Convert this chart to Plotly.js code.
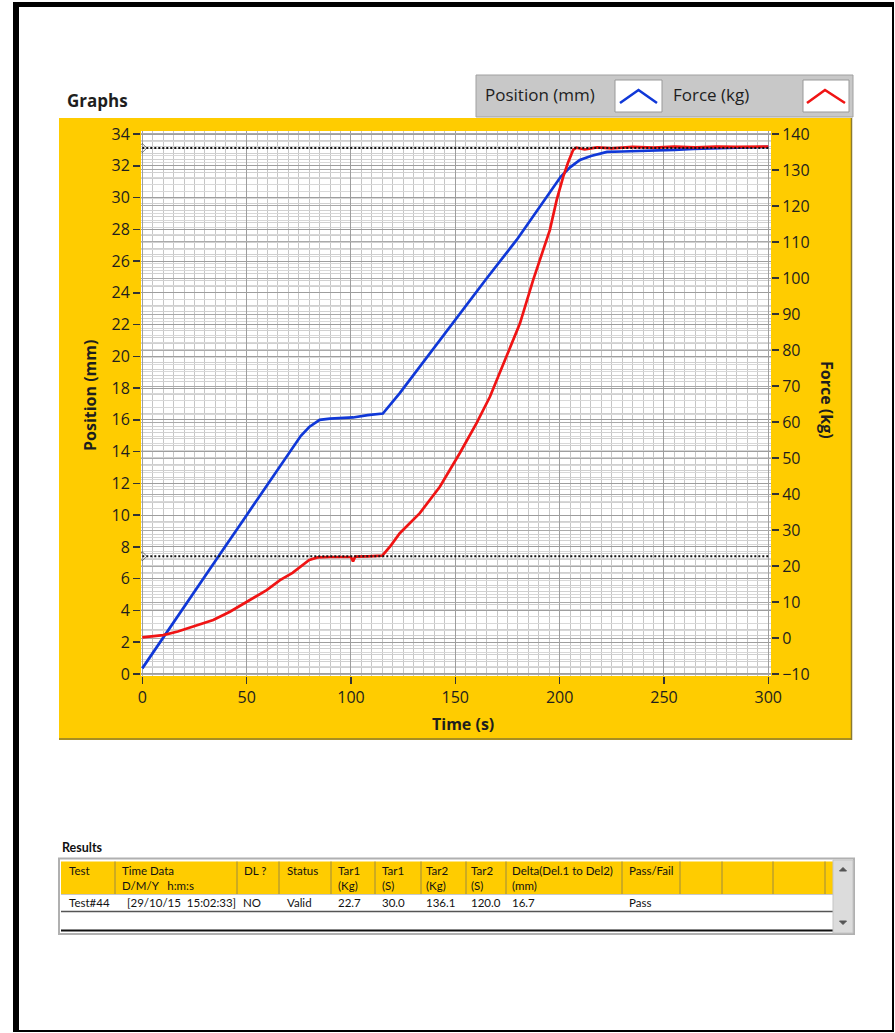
<!DOCTYPE html>
<html>
<head>
<meta charset="utf-8">
<script src="https://cdn.plot.ly/plotly-3.0.1.min.js"></script>
<style>html,body{margin:0;padding:0;background:#fff;}#chart{width:895px;height:1033px;}</style>
</head>
<body>
<div id="chart"></div>
<script>
// ---- data ----
const timePos = [0, 10, 20, 30, 37.2, 50, 60, 70, 76, 80, 83, 85, 90, 95, 101, 108, 115.3, 123.4, 135, 152.2, 165, 179.4, 190, 200.6, 205, 209.7, 215, 222.7, 230, 241.8, 255, 264, 280, 300];
const positionMm = [0.35, 2.3, 4.2, 6.15, 7.53, 10.0, 11.9, 13.85, 15.0, 15.55, 15.85, 16.0, 16.08, 16.1, 16.15, 16.3, 16.4, 17.68, 19.7, 22.71, 24.9, 27.33, 29.3, 31.32, 31.9, 32.37, 32.62, 32.87, 32.9, 32.93, 33.0, 33.06, 33.12, 33.19];

const timeForce = [0, 5, 10, 17, 24, 34, 42, 50, 59.6, 66, 72, 80, 84, 90, 95, 100, 101, 102, 108, 115, 119, 123.4, 133, 142.6, 152.2, 160.2, 166.6, 174.6, 181, 187.3, 192.1, 195.3, 198.6, 201.7, 204, 206.5, 208, 212, 218, 225, 235, 245, 255, 265, 275, 285, 300];
const forceKg = [0.2, 0.4, 0.8, 1.8, 3.1, 5.0, 7.3, 10.0, 13.3, 16.1, 18.1, 21.7, 22.4, 22.5, 22.6, 22.5, 21.3, 22.6, 22.7, 22.9, 25.6, 29.1, 34.7, 42.0, 51.4, 59.7, 67.0, 78.1, 87.4, 99.4, 107.8, 113.3, 121.7, 128.1, 132.0, 135.6, 136.2, 135.7, 136.3, 136.0, 136.4, 136.2, 136.5, 136.3, 136.5, 136.4, 136.5];

const tar1Kg = 22.7;   // target line 1 (force)
const tar2Kg = 136.1;  // target line 2 (force)
const timeSpan = [0, 300];

const xTicks = [0, 50, 100, 150, 200, 250, 300];

// results table
const tableHeaders = ["Test", "Time Data<br>D/M/Y\u00a0\u00a0\u00a0h:m:s", "DL ?", "Status", "Tar1<br>(Kg)", "Tar1<br>(S)", "Tar2<br>(Kg)", "Tar2<br>(S)", "Delta(Del.1 to Del2)<br>(mm)", "Pass/Fail"];
const tableRow = ["Test#44", "[29/10/15\u00a0\u00a015:02:33]", "NO", "Valid", "22.7", "30.0", "136.1", "120.0", "16.7", "Pass"];

// ---- layout helpers (pixel -> paper) ----
const W = 895, H = 1033;
const X = p => p / W;
const Y = p => 1 - p / H;

const textCol = '#1e1e1e';
const yellow = '#FFCC00';

const traces = [
  {x: timePos, y: positionMm, type: 'scatter', mode: 'lines', name: 'Position (mm)',
   line: {color: '#1038D8', width: 2.7}, xaxis: 'x', yaxis: 'y'},
  {x: timeForce, y: forceKg, type: 'scatter', mode: 'lines', name: 'Force (kg)',
   line: {color: '#F01414', width: 2.7}, xaxis: 'x', yaxis: 'y2'},
  {x: timeSpan, y: [tar1Kg, tar1Kg], type: 'scatter', mode: 'lines+markers', name: 'Tar1',
   line: {color: '#111', width: 2, dash: '2px,2px'}, marker: {symbol: 'diamond-open', size: [7, 0], color: '#444', line: {width: 1}},
   xaxis: 'x', yaxis: 'y2'},
  {x: timeSpan, y: [tar2Kg, tar2Kg], type: 'scatter', mode: 'lines+markers', name: 'Tar2',
   line: {color: '#111', width: 2, dash: '2px,2px'}, marker: {symbol: 'diamond-open', size: [7, 0], color: '#444', line: {width: 1}},
   xaxis: 'x', yaxis: 'y2'}
];

const shapes = [];
const annotations = [];

// outer frame
shapes.push({type: 'rect', xref: 'paper', yref: 'paper', x0: X(13), x1: X(894), y0: Y(2), y1: Y(7), fillcolor: '#000', line: {width: 0}, layer: 'below'});
shapes.push({type: 'rect', xref: 'paper', yref: 'paper', x0: X(13), x1: X(19), y0: Y(2), y1: Y(1032), fillcolor: '#000', line: {width: 0}, layer: 'below'});
shapes.push({type: 'rect', xref: 'paper', yref: 'paper', x0: X(892), x1: X(894), y0: Y(2), y1: Y(1032), fillcolor: '#000', line: {width: 0}, layer: 'below'});
shapes.push({type: 'rect', xref: 'paper', yref: 'paper', x0: X(13), x1: X(894), y0: Y(1030), y1: Y(1032), fillcolor: '#000', line: {width: 0}, layer: 'below'});

// yellow graph panel with white plotting area
shapes.push({type: 'rect', xref: 'paper', yref: 'paper', x0: X(59), x1: X(852), y0: Y(118), y1: Y(740), fillcolor: yellow, line: {width: 0}, layer: 'below'});
shapes.push({type: 'rect', xref: 'paper', yref: 'paper', x0: X(141), x1: X(771), y0: Y(131), y1: Y(676), fillcolor: '#ffffff', line: {width: 0}, layer: 'below'});
shapes.push({type: 'line', xref: 'paper', yref: 'paper', x0: X(59), x1: X(852), y0: Y(739), y1: Y(739), line: {color: '#8a7a30', width: 1.5}, layer: 'below'});
shapes.push({type: 'line', xref: 'paper', yref: 'paper', x0: X(851.5), x1: X(851.5), y0: Y(118), y1: Y(740), line: {color: '#8a7a30', width: 1.5}, layer: 'below'});

// legend box
shapes.push({type: 'rect', xref: 'paper', yref: 'paper', x0: X(476), x1: X(853), y0: Y(75), y1: Y(117), fillcolor: '#C8C8C8', line: {color: '#a0a0a0', width: 1}, layer: 'below'});
shapes.push({type: 'rect', xref: 'paper', yref: 'paper', x0: X(615), x1: X(662), y0: Y(80), y1: Y(112), fillcolor: '#fff', line: {color: '#999', width: 1}});
shapes.push({type: 'rect', xref: 'paper', yref: 'paper', x0: X(803), x1: X(849), y0: Y(80), y1: Y(112), fillcolor: '#fff', line: {color: '#999', width: 1}});
shapes.push({type: 'path', xref: 'paper', yref: 'paper', path: `M ${X(620)} ${Y(103)} L ${X(638.5)} ${Y(90)} L ${X(657)} ${Y(103)}`, line: {color: '#1038D8', width: 2.6}});
shapes.push({type: 'path', xref: 'paper', yref: 'paper', path: `M ${X(807)} ${Y(103)} L ${X(825)} ${Y(90)} L ${X(845)} ${Y(103)}`, line: {color: '#F01414', width: 2.6}});

annotations.push({xref: 'paper', yref: 'paper', x: X(65), y: Y(100), xanchor: 'left', yanchor: 'middle', showarrow: false,
  text: '<b>Graphs</b>', font: {size: 17, color: textCol, family: 'Open Sans, sans-serif'}});
annotations.push({xref: 'paper', yref: 'paper', x: X(483), y: Y(95), xanchor: 'left', yanchor: 'middle', showarrow: false,
  text: 'Position (mm)', font: {size: 17, color: textCol, family: 'Open Sans, sans-serif'}});
annotations.push({xref: 'paper', yref: 'paper', x: X(671), y: Y(95), xanchor: 'left', yanchor: 'middle', showarrow: false,
  text: 'Force (kg)', font: {size: 17, color: textCol, family: 'Open Sans, sans-serif'}});

// axis titles
annotations.push({xref: 'paper', yref: 'paper', x: X(90), y: Y(396), xanchor: 'center', yanchor: 'middle', textangle: -90, showarrow: false,
  text: '<b>Position (mm)</b>', font: {size: 16, color: textCol, family: 'Open Sans, sans-serif'}});
annotations.push({xref: 'paper', yref: 'paper', x: X(463), y: Y(724), xanchor: 'center', yanchor: 'middle', showarrow: false,
  text: '<b>Time (s)</b>', font: {size: 16, color: textCol, family: 'Open Sans, sans-serif'}});
annotations.push({xref: 'paper', yref: 'paper', x: X(827), y: Y(400), xanchor: 'center', yanchor: 'middle', textangle: 90, showarrow: false,
  text: '<b>Force (kg)</b>', font: {size: 16, color: textCol, family: 'Open Sans, sans-serif'}});

// ---- results table ----
const tblFont = {size: 11.5, color: '#111', family: 'Lato, sans-serif'};
annotations.push({xref: 'paper', yref: 'paper', x: X(60), y: Y(847), xanchor: 'left', yanchor: 'middle', showarrow: false,
  text: '<b>Results</b>', font: {size: 12.5, color: '#111', family: 'Lato, sans-serif'}});
shapes.push({type: 'rect', xref: 'paper', yref: 'paper', x0: X(59), x1: X(854), y0: Y(858.5), y1: Y(934), fillcolor: '#fff', line: {color: '#b0b0b0', width: 2}, layer: 'below'});
shapes.push({type: 'rect', xref: 'paper', yref: 'paper', x0: X(61), x1: X(833), y0: Y(861.5), y1: Y(894), fillcolor: yellow, line: {width: 0}, layer: 'below'});
const colLines = [115, 237, 279, 331, 375, 421, 466, 506, 622, 680, 722, 773, 825];
colLines.forEach(cx => shapes.push({type: 'line', xref: 'paper', yref: 'paper', x0: X(cx), x1: X(cx), y0: Y(861.5), y1: Y(894), line: {color: '#9c8a40', width: 1}}));
shapes.push({type: 'line', xref: 'paper', yref: 'paper', x0: X(61), x1: X(833), y0: Y(894.5), y1: Y(894.5), line: {color: '#c8c8c8', width: 1}});
shapes.push({type: 'line', xref: 'paper', yref: 'paper', x0: X(61), x1: X(833), y0: Y(911.5), y1: Y(911.5), line: {color: '#555', width: 1.5}});
shapes.push({type: 'line', xref: 'paper', yref: 'paper', x0: X(61), x1: X(833), y0: Y(930.5), y1: Y(930.5), line: {color: '#111', width: 2}});
// scrollbar
shapes.push({type: 'rect', xref: 'paper', yref: 'paper', x0: X(833), x1: X(853), y0: Y(860), y1: Y(933), fillcolor: '#dcdcdc', line: {color: '#c4c4c4', width: 1}});
shapes.push({type: 'path', xref: 'paper', yref: 'paper', path: `M ${X(839.5)} ${Y(871)} L ${X(843)} ${Y(867.5)} L ${X(846.5)} ${Y(871)} Z`, fillcolor: '#555', line: {color: '#555', width: 1}});
shapes.push({type: 'path', xref: 'paper', yref: 'paper', path: `M ${X(839.5)} ${Y(921)} L ${X(843)} ${Y(924.5)} L ${X(846.5)} ${Y(921)} Z`, fillcolor: '#555', line: {color: '#555', width: 1}});

const colTextX = [67, 120, 242, 285, 336, 380, 424, 469, 510, 627];
const rowTextX = [67, 125, 241, 285, 336, 380, 424, 469, 510, 627];
tableHeaders.forEach((h, i) => annotations.push({xref: 'paper', yref: 'paper', x: X(colTextX[i]), y: Y(862), xanchor: 'left', yanchor: 'top', align: 'left',
  showarrow: false, text: h, font: tblFont}));
tableRow.forEach((v, i) => annotations.push({xref: 'paper', yref: 'paper', x: X(rowTextX[i]), y: Y(902.5), xanchor: 'left', yanchor: 'middle',
  showarrow: false, text: v, font: tblFont}));

const tickFont = {size: 16, color: textCol, family: 'Open Sans, sans-serif'};

const layout = {
  width: W, height: H,
  margin: {l: 0, r: 0, t: 0, b: 0, pad: 0},
  paper_bgcolor: '#ffffff',
  plot_bgcolor: '#ffffff',
  showlegend: false,
  font: {family: 'Open Sans, sans-serif', color: textCol},
  xaxis: {
    domain: [X(141), X(771)], range: [-0.62, 301.3], tickvals: xTicks,
    ticks: 'outside', ticklen: 7, tickwidth: 1.5, tickcolor: '#333', tickfont: tickFont,
    showgrid: true, gridcolor: '#9e9e9e', gridwidth: 1,
    minor: {dtick: 5, tick0: 0, showgrid: true, gridcolor: '#c6c6c6', gridwidth: 1},
    zeroline: false, showline: false, anchor: 'y', fixedrange: true
  },
  yaxis: {
    domain: [Y(676), Y(131)], range: [-0.13, 34.19], dtick: 2, tick0: 0,
    ticks: 'outside', ticklen: 7, tickwidth: 1.5, tickcolor: '#333', tickfont: tickFont,
    showgrid: true, gridcolor: '#9e9e9e', gridwidth: 1,
    minor: {dtick: 0.4, tick0: 0, showgrid: true, gridcolor: '#d0d0d0', gridwidth: 1},
    zeroline: false, showline: false, anchor: 'x', fixedrange: true
  },
  yaxis2: {
    overlaying: 'y', side: 'right', anchor: 'x', range: [-10.55, 140.83], dtick: 10, tick0: 0,
    ticks: 'outside', ticklen: 7, tickwidth: 1.5, tickcolor: '#333', tickfont: tickFont,
    showgrid: true, gridcolor: '#aaaaaa', gridwidth: 1,
    minor: {dtick: 2, tick0: 0, showgrid: true, gridcolor: '#d8d8d8', gridwidth: 1},
    zeroline: false, showline: false, fixedrange: true
  },
  shapes: shapes,
  annotations: annotations
};

Plotly.newPlot('chart', traces, layout, {staticPlot: true, displayModeBar: false});
</script>
</body>
</html>
